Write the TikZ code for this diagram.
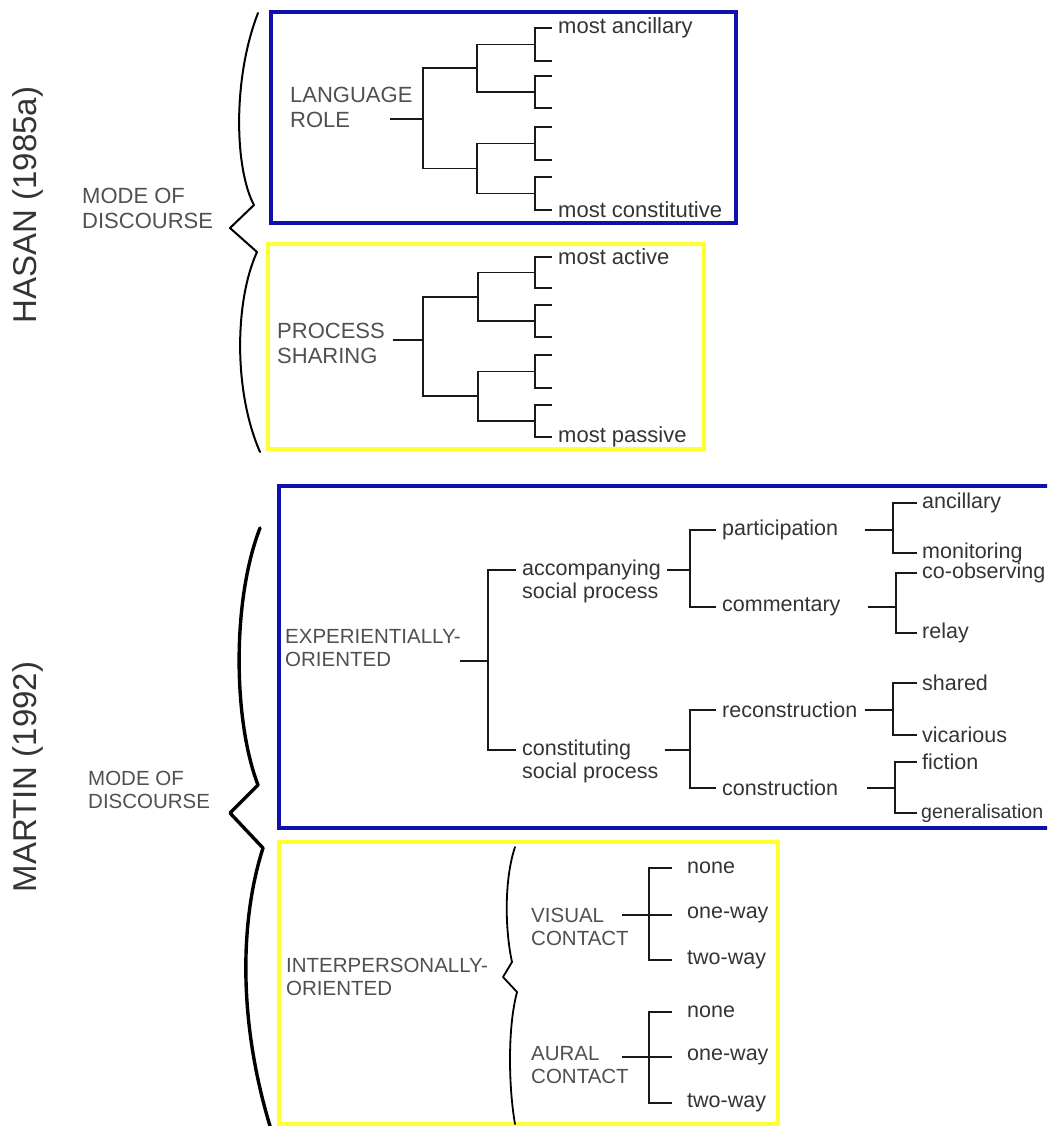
\documentclass[tikz,border=0pt]{standalone}
\usepackage{fontspec}
\setmainfont{Liberation Sans}
\usepackage{xcolor}
\usepackage{tikz}
\usetikzlibrary{positioning}

\definecolor{frameblue}{RGB}{16,16,176}
\definecolor{frameyellow}{RGB}{255,255,50}
\definecolor{inkgrey}{RGB}{52,52,52}
\definecolor{capsgrey}{RGB}{80,80,80}

\begin{document}
\begin{tikzpicture}[
  x=1pt,y=-1pt,
  branch/.style={draw=black!90,line width=1.8pt},
  brace line/.style={draw=black,line width=#1,line join=round,line cap=round},
  blue frame/.style={draw=frameblue,line width=4pt,inner sep=0pt,outer sep=0pt,anchor=north west},
  yellow frame/.style={draw=frameyellow,line width=4.5pt,inner sep=0pt,outer sep=0pt,anchor=north west},
  title/.style={font=\fontsize{33}{36}\selectfont,text=inkgrey,rotate=90,inner sep=0pt},
  caps top/.style={font=\fontsize{22}{25}\selectfont,text=capsgrey,align=left,inner sep=2pt,anchor=west},
  caps low/.style={font=\fontsize{20.5}{23}\selectfont,text=capsgrey,align=left,inner sep=2pt,anchor=west},
  leaf top/.style={font=\fontsize{22}{24}\selectfont,text=inkgrey,inner xsep=6pt,inner ysep=0pt,anchor=west},
  mid label/.style={font=\fontsize{21.5}{23}\selectfont,text=inkgrey,align=left,inner xsep=6pt,inner ysep=0pt,anchor=west},
  leaf low/.style={mid label,inner xsep=5pt},
  contact leaf/.style={mid label,inner xsep=15pt}
]
\useasboundingbox (0,0) rectangle (1047,1126);
\clip (0,0) rectangle (1047,1126);

% Hasan (1985a) -- mode of discourse.
\node[title] (hasan) at (28,205) {HASAN (1985a)};
\node[caps top] (hasan-mode) at (80,208.5) {MODE OF\\DISCOURSE};
\draw[brace line=2pt] (258,13) .. controls (232,80) and (235,170) .. (254,205)
  -- (230,228) -- (257,252) .. controls (235,300) and (233,390) .. (260,452);

% Language role (blue frame).
\node[blue frame,minimum width=465pt,minimum height=211pt] (role-box) at (271,12) {};
\node[caps top] (role) at (288,107.5) {LANGUAGE\\ROLE};
\foreach \n/\y in {1/28,2/61,3/76,4/108,5/127,6/160,7/177,8/210}
  \coordinate (role-l\n) at (552,\y);
\coordinate (role-fork) at (423,119);
\coordinate (role-a) at (477,68);
\coordinate (role-b) at (477,168.5);
\coordinate (role-aa) at (535,44.5);
\coordinate (role-ab) at (535,92);
\coordinate (role-ba) at (535,143.5);
\coordinate (role-bb) at (535,193.5);
\node[leaf top] (role-first) at (role-l1) {most ancillary};
\node[leaf top] (role-last) at (role-l8) {most constitutive};
\draw[branch] ([xshift=-33pt]role-fork) -- (role-fork);
\draw[branch] (role-a) -| (role-fork) |- (role-b);
\draw[branch] (role-aa) -| (role-a) |- (role-ab);
\draw[branch] (role-ba) -| (role-b) |- (role-bb);
\foreach \f/\a/\b in {aa/1/2,ab/3/4,ba/5/6,bb/7/8}
  \draw[branch] (role-l\a) -| (role-\f) |- (role-l\b);

% Process sharing (yellow frame).
\node[yellow frame,minimum width=436pt,minimum height=205pt] (ps-box) at (268,244) {};
\node[caps top] (ps) at (275,343.5) {PROCESS\\SHARING};
\foreach \n/\y in {1/257,2/288,3/305,4/337,5/355,6/388,7/405,8/437}
  \coordinate (ps-l\n) at (552,\y);
\coordinate (ps-fork) at (423,340);
\coordinate (ps-a) at (478,296.75);
\coordinate (ps-b) at (478,396.25);
\coordinate (ps-aa) at (535,272.5);
\coordinate (ps-ab) at (535,321);
\coordinate (ps-ba) at (535,371.5);
\coordinate (ps-bb) at (535,421);
\node[leaf top] (ps-first) at (ps-l1) {most active};
\node[leaf top] (ps-last) at (ps-l8) {most passive};
\draw[branch] ([xshift=-30pt]ps-fork) -- (ps-fork);
\draw[branch] (ps-a) -| (ps-fork) |- (ps-b);
\draw[branch] (ps-aa) -| (ps-a) |- (ps-ab);
\draw[branch] (ps-ba) -| (ps-b) |- (ps-bb);
\foreach \f/\a/\b in {aa/1/2,ab/3/4,ba/5/6,bb/7/8}
  \draw[branch] (ps-l\a) -| (ps-\f) |- (ps-l\b);

% Martin (1992) -- mode of discourse.
\node[title] (martin) at (28,777) {MARTIN (1992)};
\node[caps low] (martin-mode) at (86,789.5) {MODE OF\\DISCOURSE};
\draw[brace line=3.4pt] (260,528) .. controls (232,600) and (233,720) .. (258,785)
  -- (230,813) -- (263,848) .. controls (240,920) and (238,1020) .. (270,1126);

% Experientially-oriented (blue frame).
\node[blue frame,minimum width=800pt,minimum height=342pt] (exper-box) at (279,486) {};
\node[caps low] (exper) at (283,648) {EXPERIENTIALLY-\\ORIENTED};
\coordinate (exper-fork) at (488,661);
\node[mid label] (accomp) at (516,581.5) {accompanying\\social process};
\node[mid label] (constit) at (516,761.5) {constituting\\social process};
\coordinate (accomp-fork) at (690,570);
\coordinate (constit-fork) at (690,750);
\draw[branch] ([xshift=-28pt]exper-fork) -- (exper-fork);
\draw[branch] (accomp.west |- accomp-fork) -| (exper-fork) |- (constit.west |- constit-fork);
\draw[branch] (accomp.east |- accomp-fork) -- (accomp-fork);
\draw[branch] (constit.east |- constit-fork) -- (constit-fork);

\node[mid label] (partic) at (716,530) {participation};
\node[mid label] (comment) at (716,607) {commentary};
\node[mid label] (reconstr) at (716,710) {reconstruction};
\node[mid label] (constr) at (716,788) {construction};
\draw[branch] (partic.west) -| (accomp-fork) |- (comment.west);
\draw[branch] (reconstr.west) -| (constit-fork) |- (constr.west);

\coordinate (partic-fork) at (893,530);
\coordinate (comment-fork) at (896,607);
\coordinate (reconstr-fork) at (893,710);
\coordinate (constr-fork) at (895,788);
\node[leaf low] (ancill) at (917,503) {ancillary};
\node[leaf low] (monit) at (917,553) {monitoring};
\node[leaf low] (coobs) at (917,573) {co-observing};
\node[leaf low] (relay) at (917,633) {relay};
\node[leaf low] (shared) at (917,683) {shared};
\node[leaf low] (vicar) at (917,735) {vicarious};
\node[leaf low] (fiction) at (917,762) {fiction};
\node[leaf low,font=\fontsize{19.6}{23}\selectfont,inner xsep=4pt] (general) at (917,813) {generalisation};
\foreach \f/\a/\b in {partic/ancill/monit,comment/coobs/relay,reconstr/shared/vicar,constr/fiction/general} {
  \draw[branch] ([xshift=-28pt]\f-fork) -- (\f-fork);
  \draw[branch] (\a.west) -| (\f-fork) |- (\b.west);
}

% Interpersonally-oriented (yellow frame).
\node[yellow frame,minimum width=499pt,minimum height=282pt] (inter-box) at (279,842) {};
\node[caps low] (inter) at (284,977) {INTERPERSONALLY-\\ORIENTED};
\draw[brace line=1.8pt] (515,847) .. controls (504,880) and (505,930) .. (512,962)
  -- (503,977) -- (517,992) .. controls (507,1030) and (509,1090) .. (515,1124);

\node[caps low] (visual) at (529,926.5) {VISUAL\\CONTACT};
\coordinate (visual-fork) at (649,915);
\node[contact leaf] (vis-none) at (672,868) {none};
\node[contact leaf] (vis-one) at (672,915) {one-way};
\node[contact leaf] (vis-two) at (672,960) {two-way};
\draw[branch] (vis-none.west) -| (visual-fork) |- (vis-two.west);
\draw[branch] ([xshift=-27pt]visual-fork) -- (vis-one.west);

\node[caps low] (aural) at (529,1065) {AURAL\\CONTACT};
\coordinate (aural-fork) at (649,1057);
\node[contact leaf] (aur-none) at (672,1012) {none};
\node[contact leaf] (aur-one) at (672,1057) {one-way};
\node[contact leaf] (aur-two) at (672,1103) {two-way};
\draw[branch] (aur-none.west) -| (aural-fork) |- (aur-two.west);
\draw[branch] ([xshift=-27pt]aural-fork) -- (aur-one.west);

\end{tikzpicture}
\end{document}
